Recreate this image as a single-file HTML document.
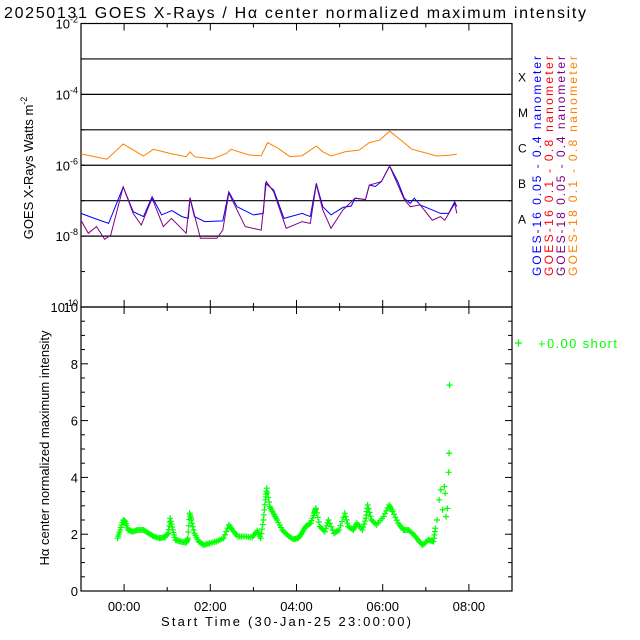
<!DOCTYPE html>
<html><head><meta charset="utf-8"><style>
body{margin:0;background:#fff}
svg{display:block;font-family:"Liberation Sans",sans-serif}
</style></head><body>
<svg id="c" width="640" height="640" xmlns="http://www.w3.org/2000/svg"></svg>
<script>
// time in hours from 23:00 (30-Jan), log10 flux values
const orangeT=[0,0.6,0.98,1.45,1.68,2.11,2.44,2.53,2.63,3.05,3.38,3.48,3.9,4.18,4.33,4.57,4.85,5.13,5.46,5.61,5.8,6.13,6.46,6.69,6.93,7.16,7.4,7.68,8.06,8.25,8.54,8.72];
const orangeV=[-5.68,-5.83,-5.40,-5.74,-5.55,-5.68,-5.76,-5.62,-5.76,-5.82,-5.66,-5.55,-5.71,-5.73,-5.36,-5.52,-5.76,-5.73,-5.46,-5.62,-5.74,-5.62,-5.57,-5.36,-5.29,-5.04,-5.27,-5.55,-5.67,-5.74,-5.72,-5.69];
const blueT=[0,0.31,0.64,0.98,1.21,1.45,1.65,1.87,2.11,2.34,2.49,2.53,2.63,2.87,3.29,3.43,3.62,4.0,4.23,4.28,4.47,4.71,5.13,5.32,5.46,5.61,5.8,6.08,6.27,6.36,6.6,6.69,6.83,6.97,7.16,7.35,7.5,7.64,7.73,7.87,8.15,8.34,8.53,8.67,8.72];
const blueV=[-7.36,-7.5,-7.64,-6.61,-7.31,-7.45,-6.89,-7.40,-7.28,-7.45,-7.5,-6.93,-7.45,-7.59,-7.57,-6.75,-7.17,-7.40,-7.36,-6.51,-6.70,-7.50,-7.36,-7.45,-6.51,-7.17,-7.40,-7.19,-7.15,-6.93,-6.97,-6.56,-6.60,-6.46,-6.02,-6.46,-6.93,-7.08,-6.93,-7.12,-7.26,-7.36,-7.36,-7.03,-7.17];
const purpleT=[0,0.17,0.36,0.55,0.69,0.98,1.21,1.4,1.65,1.91,2.1,2.44,2.53,2.77,3.15,3.29,3.43,3.81,4.18,4.3,4.47,4.76,5.13,5.32,5.46,5.61,5.8,6.08,6.36,6.6,6.69,6.97,7.16,7.5,7.64,7.87,8.15,8.34,8.44,8.67,8.72];
const purpleV=[-7.55,-7.92,-7.73,-8.09,-7.97,-6.61,-7.36,-7.69,-6.93,-7.73,-7.5,-7.92,-6.91,-8.06,-8.06,-7.83,-6.79,-7.73,-7.83,-6.46,-6.75,-7.78,-7.59,-7.64,-6.54,-7.26,-7.78,-7.26,-6.93,-6.97,-6.56,-6.46,-6.02,-6.97,-7.17,-7.12,-7.55,-7.45,-7.55,-7.08,-7.36];
// H-alpha normalized intensity scatter
const haT=[0.85,0.91,0.98,1.03,1.09,1.2,1.32,1.45,1.57,1.69,1.82,1.94,2.02,2.07,2.13,2.19,2.31,2.44,2.48,2.52,2.56,2.63,2.73,2.85,2.98,3.14,3.31,3.43,3.51,3.64,3.8,3.97,4.09,4.17,4.23,4.28,4.31,4.38,4.46,4.55,4.67,4.79,4.92,5.04,5.12,5.21,5.33,5.41,5.45,5.54,5.66,5.74,5.87,5.99,6.12,6.2,6.32,6.4,6.53,6.61,6.65,6.74,6.86,7.02,7.15,7.23,7.36,7.48,7.6,7.73,7.85,7.93,8.06,8.18,8.22,8.26,8.31,8.35,8.39,8.43,8.45,8.47,8.5,8.53,8.54,8.55];
const haV=[1.86,2.15,2.5,2.44,2.15,2.09,2.15,2.15,2.03,1.92,1.86,1.89,2.03,2.56,2.15,1.8,1.74,1.7,1.86,2.74,2.5,2.03,1.74,1.62,1.68,1.74,1.86,2.33,2.15,1.92,1.92,1.89,2.12,1.86,2.5,3.21,3.62,2.97,2.74,2.5,2.15,1.97,1.82,1.86,2.03,2.27,2.39,2.74,2.91,2.27,2.09,2.5,2.03,2.15,2.74,2.27,2.15,2.39,2.15,2.56,3.03,2.5,2.33,2.62,3.03,2.8,2.39,2.15,2.15,1.97,1.74,1.62,1.8,1.74,2.21,2.5,3.21,3.56,2.86,3.68,3.44,2.62,2.91,4.18,4.85,7.25];
const yTickExp=[-2,-4,-6,-8,-10];
const hourLabels=["00:00","02:00","04:00","06:00","08:00"];
const hourVals=[1,3,5,7,9];
const ns="http://www.w3.org/2000/svg",svg=document.getElementById('c');
function el(t,a,p){const e=document.createElementNS(ns,t);for(const k in a)e.setAttribute(k,a[k]);(p||svg).appendChild(e);return e;}
const L=81,R=512,T1=23.5,B1=307,T2=307,B2=591;
const xs=t=>L+(R-L)*t/10;
const y1=v=>T1+(-2-v)*(B1-T1)/8;
const y2=v=>B2-v*(B2-T2)/10;
let e;
e=el('text',{x:4,y:18,'font-size':16,textLength:582,lengthAdjust:'spacing'});e.textContent='20250131 GOES X-Rays / H\u03b1 center normalized maximum intensity';

e=el('rect',{x:L,y:T1,width:R-L,height:B1-T1,fill:'none',stroke:'#000','stroke-width':1.2});

e=el('rect',{x:L,y:T2,width:R-L,height:B2-T2,fill:'none',stroke:'#000','stroke-width':1.2});

for(let d=-3;d>=-8;d--){e=el('line',{x1:L,x2:R,y1:y1(d),y2:y1(d),stroke:'#000','stroke-width':1.2});
}
for(let d=-2;d>=-10;d--){el('line',{x1:L,x2:L+4,y1:y1(d),y2:y1(d),stroke:'#000'});el('line',{x1:R-4,x2:R,y1:y1(d),y2:y1(d),stroke:'#000'});}
yTickExp.forEach(d=>{e=el('text',{x:78,y:y1(d)+5,'font-size':13,'text-anchor':'end'});e.innerHTML='10<tspan dy="-6" font-size="9">'+d+'</tspan>';
});
for(let v=0;v<=10;v+=0.5){const len=v%2===0?7:4;el('line',{x1:L,x2:L+len,y1:y2(v),y2:y2(v),stroke:'#000'});el('line',{x1:R-len,x2:R,y1:y2(v),y2:y2(v),stroke:'#000'});}
for(let v=0;v<=10;v+=2){e=el('text',{x:78,y:y2(v)+5,'font-size':13,'text-anchor':'end'});e.textContent=v;
}
for(let h=1;h<10;h++){const len=h%2===1?7:4;const x=xs(h);
[[T1,1],[T2,1],[B2,-1],[B1,-1]].forEach(([y,s])=>el('line',{x1:x,x2:x,y1:y,y2:y+s*len,stroke:'#000'}));}
hourVals.forEach((h,i)=>{e=el('text',{x:xs(h),y:611,'font-size':13,'text-anchor':'middle'});e.textContent=hourLabels[i];
});
e=el('text',{x:161,y:626,'font-size':13,textLength:250,lengthAdjust:'spacing'});e.textContent='Start Time (30-Jan-25 23:00:00)';

e=el('text',{x:0,y:0,'font-size':13,'text-anchor':'middle',transform:'translate(33,168) rotate(-90)'});e.innerHTML='GOES X-Rays Watts m<tspan dy="-6" font-size="9">-2</tspan>';

e=el('text',{x:0,y:0,'font-size':13,'text-anchor':'middle',transform:'translate(49,448) rotate(-90)'});e.textContent='H\u03b1 center normalized maximum intensity';

['X','M','C','B','A'].forEach((c,i)=>{e=el('text',{x:518,y:y1(-3.5-i)+5,'font-size':12});e.textContent=c;
});
function line(T,V,col,name){const p=T.map((t,i)=>xs(t).toFixed(1)+','+y1(V[i]).toFixed(1)).join(' ');
const e=el('polyline',{points:p,fill:'none',stroke:col,'stroke-width':1});
}
line(orangeT,orangeV,'#ff8000','goes18-long-line');
line(blueT,blueV,'#0000ff','goes16-short-line');
line(purpleT,purpleV,'#800080','goes18-short-line');
const leg=[['GOES-16 0.05 - 0.4 nanometer','#0000ff'],['GOES-16  0.1 - 0.8 nanometer','#ff0000'],['GOES-18 0.05 - 0.4 nanometer','#800080'],['GOES-18  0.1 - 0.8 nanometer','#ff8000']];
leg.forEach(([s,c],i)=>{e=el('text',{x:0,y:0,'font-size':12,fill:c,'xml:space':'preserve',textLength:220,lengthAdjust:'spacing',transform:'translate('+(541+i*12)+',276) rotate(-90)'});e.textContent=s;
});
const g=el('g',{stroke:'#00ff00','stroke-width':1.2});

function plus(t,v){const x=xs(t),y=y2(v);el('path',{d:`M${x-3},${y}h6M${x},${y-3}v6`},g);}
haT.forEach((t,i)=>plus(t,haV[i]));
for(let i=0;i<haT.length-1;i++){const a=haT[i],b=haT[i+1];if(b>a&&b-a<0.2&&a<8.2)for(let k=1;k<4;k++){plus(a+(b-a)*k/4,haV[i]+(haV[i+1]-haV[i])*k/4);}}
el('path',{d:'M515,343h7M518.5,339.5v7',stroke:'#00ff00','stroke-width':1.2});
e=el('text',{x:538,y:348,'font-size':13,fill:'#00ff00',textLength:79,lengthAdjust:'spacing'});e.textContent='+0.00 short';

</script>
</body></html>
